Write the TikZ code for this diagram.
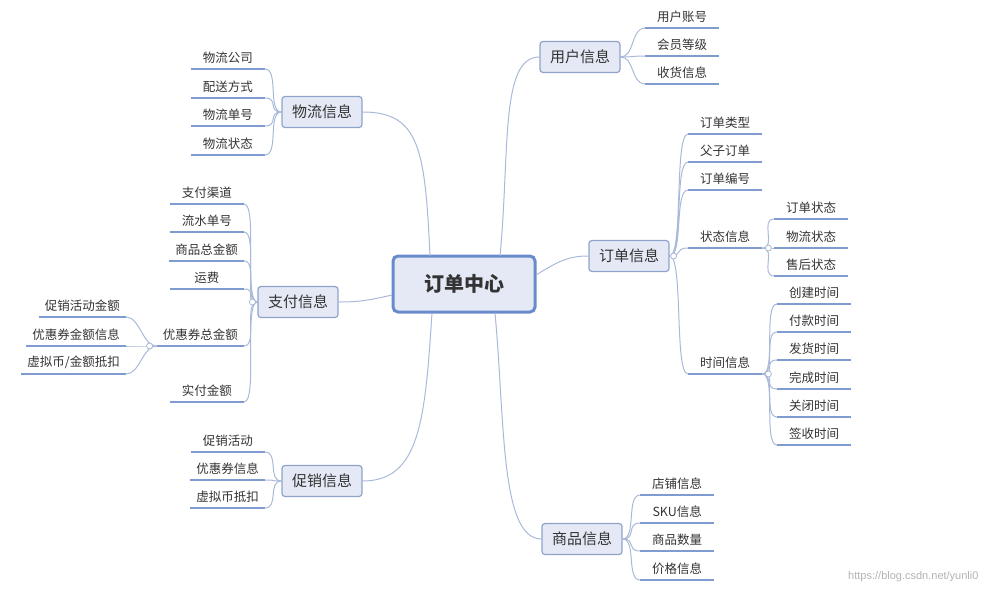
\documentclass[tikz,border=0pt]{standalone}
\usepackage{fontspec}
\setmainfont{Noto Sans CJK SC}
\newfontfamily\wm{Liberation Sans}
\definecolor{nfill}{HTML}{E4E9F5}
\definecolor{nbord}{HTML}{8FA3C9}
\definecolor{cbord}{HTML}{6A8BCB}
\definecolor{uline}{HTML}{7F9BD0}
\definecolor{conn}{HTML}{A9B9D9}
\definecolor{txt}{HTML}{333333}
\tikzset{
 mainbox/.style={draw=nbord,fill=nfill,rounded corners=3pt,line width=1.2pt,minimum height=31pt,inner xsep=10pt,font=\fontsize{15}{17}\selectfont,text=txt},
 centerbox/.style={draw=cbord,fill=nfill,rounded corners=5pt,line width=3pt,minimum width=142pt,minimum height=56pt,font=\fontsize{20}{22}\selectfont\bfseries,text=txt},
 leaf/.style={inner xsep=6pt,inner ysep=4pt,minimum width=74pt,minimum height=22pt,font=\fontsize{12.5}{14}\selectfont,text=txt},
 ul/.style={draw=uline,line width=2pt},
 con/.style={draw=conn,line width=1pt},
 knob/.style={draw=conn,fill=white,circle,inner sep=0pt,minimum size=6pt,line width=0.8pt}
}
\newcommand\lf[4]{\node[leaf,anchor=#4] (#1) at #2 {#3}; \draw[ul] (#1.south west)--(#1.south east);}
\newcommand\rc[2]{\draw[con] (#1) .. controls +(14,0) and +(-14,0) .. (#2.south west);}
\newcommand\lc[2]{\draw[con] (#1) .. controls +(-14,0) and +(14,0) .. (#2.south east);}
\begin{document}
\begin{tikzpicture}[x=1pt,y=-1pt]
\useasboundingbox (0,0) rectangle (984,592);
\node[centerbox] (c) at (464,284) {订单中心};
\node[mainbox] (u) at (580,57) {用户信息};
\node[mainbox] (o) at (629,256) {订单信息};
\node[mainbox] (g) at (582,539) {商品信息};
\node[mainbox] (w) at (322,112) {物流信息};
\node[mainbox] (p) at (298,302) {支付信息};
\node[mainbox] (s) at (322,481) {促销信息};
% center connectors
\draw[con] (500,256) .. controls (510,150) and (500,57) .. (u.west);
\draw[con] (536,275) .. controls (560,260) and (570,256) .. (o.west);
\draw[con] (495,313) .. controls (505,420) and (500,539) .. (g.west);
\draw[con] (430,256) .. controls (425,150) and (420,112) .. (w.east);
\draw[con] (392,295) .. controls (370,300) and (360,302) .. (p.east);
\draw[con] (432,313) .. controls (425,420) and (420,481) .. (s.east);
% user
\foreach \n/\y/\t in {u1/16/用户账号,u2/44/会员等级,u3/72/收货信息}{\lf{\n}{(645,\y+12)}{\t}{south west}}
\coordinate (uk) at (u.east);
\foreach \n in {u1,u2,u3}{\rc{uk}{\n}}
% order
\foreach \n/\y/\t in {o1/122/订单类型,o2/150/父子订单,o3/178/订单编号,o4/236/状态信息,o5/362/时间信息}{\lf{\n}{(688,\y+12)}{\t}{south west}}
\foreach \n in {o1,o2,o3,o4,o5}{\rc{o.east}{\n}}
\node[knob] at ([xshift=4pt]o.east) {};
\foreach \n/\y/\t in {a1/207/订单状态,a2/236/物流状态,a3/264/售后状态}{\lf{\n}{(774,\y+12)}{\t}{south west}}
\foreach \n in {a1,a2,a3}{\rc{o4.south east}{\n}}
\node[knob] at ([xshift=6pt]o4.south east) {};
\foreach \n/\y/\t in {b1/292/创建时间,b2/320/付款时间,b3/348/发货时间,b4/377/完成时间,b5/405/关闭时间,b6/433/签收时间}{\lf{\n}{(777,\y+12)}{\t}{south west}}
\foreach \n in {b1,b2,b3,b4,b5,b6}{\rc{o5.south east}{\n}}
\node[knob] at ([xshift=6pt]o5.south east) {};
% goods
\foreach \n/\y/\t in {g1/483/店铺信息,g2/511/SKU信息,g3/539/商品数量,g4/568/价格信息}{\lf{\n}{(640,\y+12)}{\t}{south west}}
\foreach \n in {g1,g2,g3,g4}{\rc{g.east}{\n}}
% logistics
\foreach \n/\y/\t in {w1/57/物流公司,w2/86/配送方式,w3/114/物流单号,w4/143/物流状态}{\lf{\n}{(265,\y+12)}{\t}{south east}}
\foreach \n in {w1,w2,w3,w4}{\lc{w.west}{\n}}
% pay
\foreach \n/\y/\t in {p1/192/支付渠道,p2/220/流水单号,p3/249/商品总金额,p4/277/运费,p5/334/优惠券总金额,p6/390/实付金额}{\lf{\n}{(244,\y+12)}{\t}{south east}}
\foreach \n in {p1,p2,p3,p4,p5,p6}{\lc{p.west}{\n}}
\node[knob] at ([xshift=-5pt]p.west) {};
\foreach \n/\y/\t in {q1/305/促销活动金额,q2/334/优惠券金额信息,q3/362/{虚拟币/金额抵扣}}{\lf{\n}{(126,\y+12)}{\t}{south east}}
\foreach \n in {q1,q2,q3}{\lc{p5.south west}{\n}}
\node[knob] at ([xshift=-7pt]p5.south west) {};
% promotion
\foreach \n/\y/\t in {s1/440/促销活动,s2/468/优惠券信息,s3/496/虚拟币抵扣}{\lf{\n}{(265,\y+12)}{\t}{south east}}
\foreach \n in {s1,s2,s3}{\lc{s.west}{\n}}
\node[text=black!30,font=\wm\fontsize{11}{13}\selectfont,anchor=east] (wmk) at (982,577) {https://blog.csdn.net/yunli0};
\end{tikzpicture}
\end{document}
